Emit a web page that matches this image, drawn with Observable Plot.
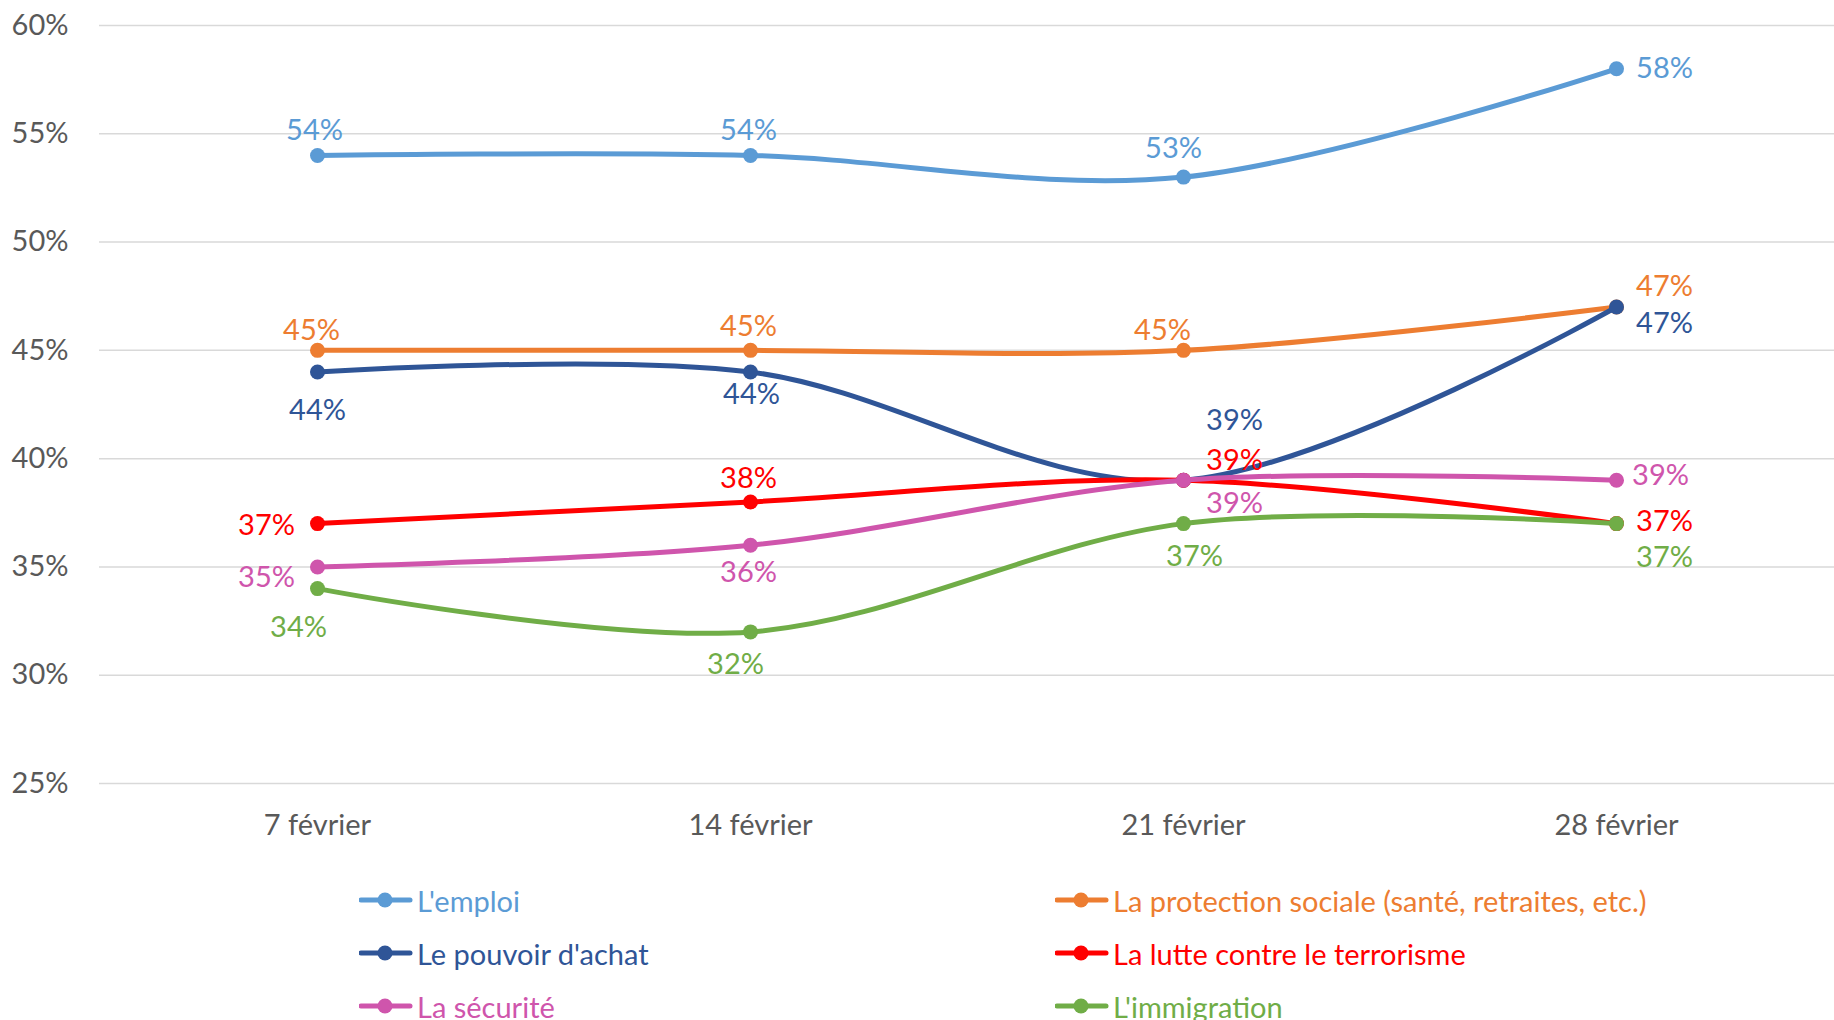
<!DOCTYPE html>
<html>
<head>
<meta charset="utf-8">
<script src="https://cdn.jsdelivr.net/npm/d3@7"></script>
<script src="https://cdn.jsdelivr.net/npm/@observablehq/plot@0.6"></script>
<style>
html, body { margin: 0; padding: 0; background: #fff; overflow: hidden; }
#wrap { position: relative; width: 1834px; height: 1020px; font-family: Lato, sans-serif; }
#chart svg { display: block; }
.leg { position: absolute; display: flex; align-items: center; font-size: 29px; white-space: nowrap; height: 40px; }
.leg svg { display: block; flex: none; }
</style>
</head>
<body>
<div id="wrap"><div id="chart"></div><div id="legend"></div></div>
<script>
// ---- data ----
const dates = ["7 février", "14 février", "21 février", "28 février"];
const seriesNames = [
  "L'emploi",
  "La protection sociale (santé, retraites, etc.)",
  "Le pouvoir d'achat",
  "La lutte contre le terrorisme",
  "La sécurité",
  "L'immigration"
];
const emploi      = [54, 54, 53, 58];
const protection  = [45, 45, 45, 47];
const pouvoir     = [44, 44, 39, 47];
const terrorisme  = [37, 38, 39, 37];
const securite    = [35, 36, 39, 39];
const immigration = [34, 32, 37, 37];
const yTicks = [25, 30, 35, 40, 45, 50, 55, 60];

// ---- styles / layout ----
const colors = ["#5B9BD5", "#ED7D31", "#2F5597", "#FF0000", "#CF55AC", "#70AD47"];
const fontSize = 29;
// data label nudges in px [dx, dy] per series, per date
const labelOffsets = [
  [[-3, -25], [-2, -25], [-10, -28], [48, 0]],
  [[-6, -20], [-2, -24], [-21, -20], [48, -20]],
  [[0, 39], [1, 23], [51, -60], [48, 17]],
  [[-51, 2], [-2, -23], [51, -20], [48, -2]],
  [[-51, 11], [-2, 27], [51, 23], [44, -5]],
  [[-19, 39], [-15, 33], [11, 33], [48, 34]]
];

const series = [emploi, protection, pouvoir, terrorisme, securite, immigration];
const rows = series.flatMap((vals, s) =>
  vals.map((v, i) => ({date: dates[i], name: seriesNames[s], value: v, s, i}))
);

const marks = [
  Plot.gridY(yTicks, {stroke: "#d9d9d9", strokeOpacity: 1, strokeWidth: 1.5}),
  Plot.axisY(yTicks, {tickSize: 0, tickPadding: 31, fontSize, color: "#595959", tickFormat: d => d + "%", label: null}),
  Plot.axisX({tickSize: 0, tickPadding: 31, fontSize, color: "#595959", label: null})
];
seriesNames.forEach((name, s) => {
  const d = rows.filter(r => r.s === s);
  marks.push(Plot.line(d, {x: "date", y: "value", stroke: colors[s], strokeWidth: 5, curve: "cardinal", tension: 0}));
  marks.push(Plot.dot(d, {x: "date", y: "value", fill: colors[s], r: 7.5}));
});
rows.forEach(r => {
  const [dx, dy] = labelOffsets[r.s][r.i];
  marks.push(Plot.text([r], {
    x: "date", y: "value", text: d => d.value + "%",
    fill: colors[r.s], dx, dy, fontSize, textAnchor: "middle", lineAnchor: "middle"
  }));
});

const chart = Plot.plot({
  width: 1834,
  height: 860,
  marginLeft: 99,
  marginRight: 0,
  marginTop: 25,
  marginBottom: 77,
  x: {type: "point", domain: dates, padding: 0.5, label: null},
  y: {domain: [25, 60], label: null},
  style: {fontFamily: "Lato, sans-serif", background: "white", overflow: "visible"},
  marks
});
document.getElementById("chart").appendChild(chart);

// ---- legend (HTML, below the SVG) ----
const legend = document.getElementById("legend");
seriesNames.forEach((name, s) => {
  const col = s % 2, row = Math.floor(s / 2);
  const item = document.createElement("div");
  item.className = "leg";
  item.style.left = (col ? 1055 : 359) + "px";
  item.style.top = (880 + row * 53) + "px";
  item.style.color = colors[s];
  item.innerHTML =
    `<svg width="58" height="20"><line x1="2" y1="10" x2="51" y2="10" stroke="${colors[s]}" stroke-width="5" stroke-linecap="round"/>` +
    `<circle cx="26" cy="10" r="7.5" fill="${colors[s]}"/></svg><span></span>`;
  item.querySelector("span").textContent = name;
  legend.appendChild(item);
});
</script>
</body>
</html>
